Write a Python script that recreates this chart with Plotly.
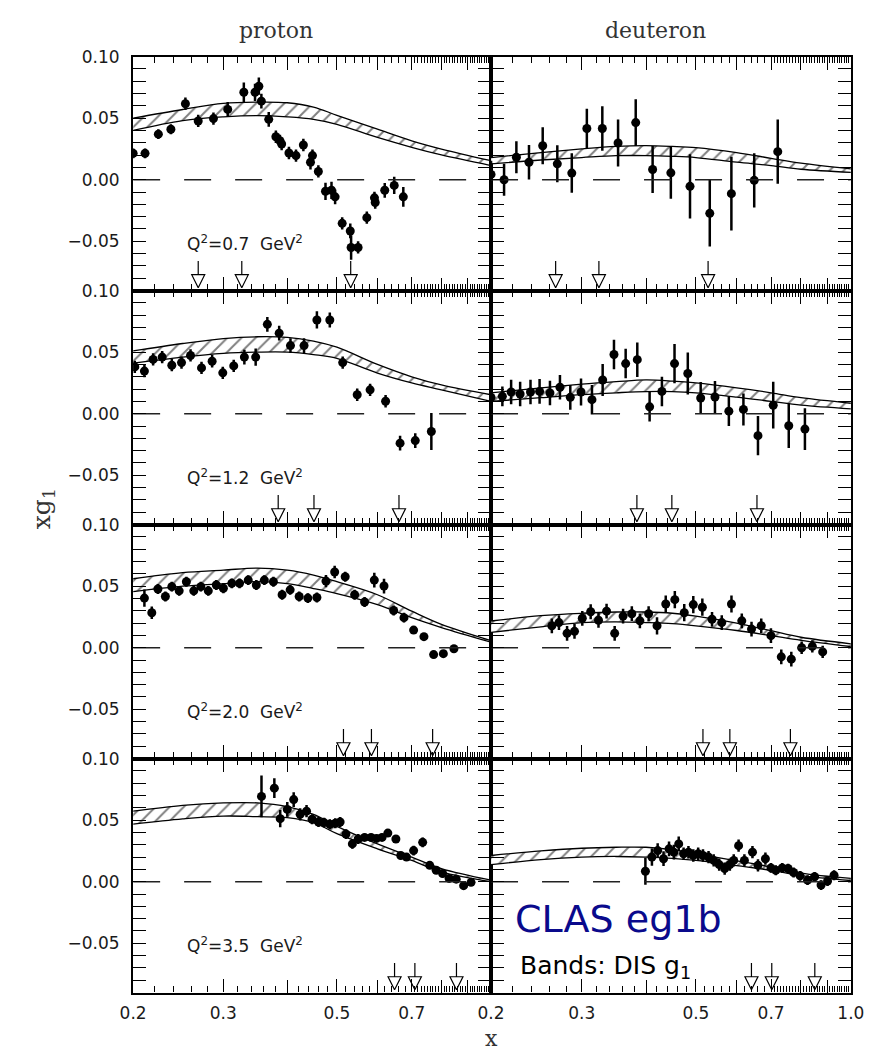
import numpy as np
import plotly.graph_objects as go
from plotly.subplots import make_subplots

# ---------------- data ----------------
# Q2 = 0.7 GeV2
p07_x = [0.200,0.211,0.224,0.237,0.253,0.268,0.287,0.306,0.329,0.346,0.352,0.356,0.368,0.380,0.387,0.390,0.403,0.416,0.430,0.444,0.448,0.460,0.475,0.488,0.496,0.512,0.531,0.533,0.550,0.572,0.592,0.594,0.620,0.647,0.674]
p07_y = [0.0214,0.0214,0.037,0.041,0.0617,0.0477,0.0496,0.0571,0.071,0.071,0.0759,0.0638,0.049,0.0349,0.0316,0.029,0.0217,0.0196,0.0282,0.0142,0.0196,0.0067,-0.0094,-0.0086,-0.0139,-0.0354,-0.0416,-0.055,-0.055,-0.0308,-0.0147,-0.0185,-0.0086,-0.0046,-0.0139]
p07_e = [0.004,0.004,0.004,0.004,0.005,0.005,0.005,0.006,0.008,0.007,0.007,0.006,0.006,0.005,0.005,0.005,0.005,0.005,0.005,0.006,0.005,0.005,0.007,0.007,0.006,0.005,0.006,0.010,0.005,0.005,0.005,0.005,0.006,0.007,0.008]
d07_x = [0.200,0.212,0.224,0.237,0.252,0.269,0.287,0.307,0.329,0.353,0.382,0.412,0.447,0.487,0.532,0.586,0.649,0.721]
d07_y = [0.0043,0.0,0.0182,0.0142,0.0276,0.0129,0.0054,0.0416,0.0416,0.0298,0.0464,0.0083,0.0056,-0.0054,-0.0273,-0.0113,-0.0005,0.0228]
d07_e = [0.011,0.013,0.013,0.014,0.015,0.015,0.016,0.016,0.018,0.019,0.019,0.019,0.021,0.026,0.027,0.030,0.022,0.026]

# Q2 = 1.2 GeV2
p12_x = [0.2015,0.2104,0.2188,0.2279,0.238,0.2486,0.2589,0.272,0.2853,0.2993,0.3144,0.3298,0.347,0.3657,0.3857,0.4058,0.4313,0.457,0.4843,0.5132,0.5478,0.5805,0.6224,0.6643,0.7112,0.7646]
p12_y = [0.038,0.0346,0.0441,0.046,0.0394,0.0415,0.0473,0.0372,0.0426,0.0332,0.0388,0.046,0.046,0.0726,0.0654,0.0553,0.0553,0.0761,0.0761,0.0415,0.0154,0.0194,0.0101,-0.0239,-0.0218,-0.0144]
p12_e = [0.005,0.005,0.005,0.005,0.005,0.005,0.005,0.005,0.005,0.005,0.005,0.006,0.007,0.006,0.006,0.006,0.006,0.007,0.006,0.005,0.005,0.005,0.005,0.006,0.006,0.015]
d12_x = [0.2,0.2104,0.2188,0.2278,0.2386,0.2485,0.2603,0.2722,0.2851,0.2991,0.3141,0.3295,0.3466,0.3652,0.3847,0.4065,0.4295,0.4544,0.4822,0.5108,0.5445,0.5794,0.6184,0.66,0.7066,0.7574,0.8142]
d12_y = [0.0133,0.0141,0.0176,0.016,0.0176,0.0181,0.0168,0.0215,0.0133,0.0176,0.0114,0.0274,0.0481,0.0407,0.0439,0.0056,0.0181,0.0407,0.0327,0.0128,0.0136,0.0021,0.0035,-0.0178,0.0069,-0.0098,-0.0125]
d12_e = [0.006,0.008,0.010,0.010,0.010,0.010,0.010,0.010,0.010,0.011,0.012,0.013,0.012,0.012,0.014,0.012,0.012,0.016,0.017,0.013,0.013,0.012,0.013,0.016,0.019,0.018,0.017]

# Q2 = 2.0 GeV2
p20_x = [0.2104,0.2175,0.2236,0.2312,0.238,0.246,0.2541,0.2627,0.2712,0.2804,0.2907,0.3001,0.3117,0.3227,0.3356,0.348,0.3608,0.3758,0.3908,0.4052,0.422,0.4388,0.457,0.476,0.495,0.519,0.5415,0.5663,0.5916,0.618,0.6454,0.676,0.706,0.7395,0.7725,0.807,0.8463]
p20_y = [0.0403,0.0284,0.0477,0.0416,0.0496,0.0462,0.0536,0.0462,0.0496,0.0462,0.0509,0.0483,0.0523,0.0523,0.0549,0.0509,0.0549,0.0536,0.043,0.047,0.0416,0.0403,0.0408,0.0541,0.0615,0.0576,0.043,0.0371,0.0549,0.0501,0.0302,0.0244,0.0143,0.009,-0.0056,-0.0048,-0.0008]
p20_e = [0.007,0.005,0.004,0.004,0.004,0.004,0.004,0.004,0.004,0.004,0.004,0.004,0.004,0.004,0.004,0.004,0.004,0.004,0.004,0.004,0.004,0.004,0.004,0.005,0.005,0.004,0.004,0.004,0.006,0.006,0.004,0.004,0.003,0.003,0.003,0.003,0.003]
d20_x = [0.2625,0.271,0.281,0.2905,0.3008,0.3123,0.3234,0.3353,0.3477,0.361,0.3754,0.3892,0.4047,0.4202,0.4369,0.455,0.4746,0.4942,0.5146,0.5374,0.5613,0.5862,0.6139,0.6412,0.6697,0.6994,0.7325,0.7661,0.8024,0.8416,0.8815]
d20_y = [0.0178,0.0204,0.0117,0.0133,0.0239,0.0292,0.0223,0.0297,0.0117,0.0257,0.0276,0.0218,0.0276,0.0178,0.0355,0.039,0.0284,0.035,0.0329,0.0231,0.0204,0.0355,0.0218,0.0151,0.0178,0.0098,-0.0074,-0.0093,0.0,0.0011,-0.0034]
d20_e = [0.006,0.006,0.006,0.006,0.006,0.006,0.006,0.006,0.006,0.006,0.006,0.006,0.006,0.007,0.007,0.007,0.007,0.007,0.007,0.006,0.006,0.007,0.006,0.006,0.006,0.006,0.006,0.006,0.005,0.005,0.005]

# Q2 = 3.5 GeV2
p35_x = [0.3562,0.3774,0.3875,0.4,0.4117,0.4238,0.4362,0.4472,0.4603,0.4718,0.4843,0.4964,0.5073,0.5208,0.536,0.5502,0.5663,0.583,0.5976,0.6125,0.6287,0.6519,0.6662,0.6838,0.706,0.7353,0.759,0.7814,0.8043,0.8282,0.855,0.884,0.914]
p35_y = [0.0693,0.076,0.0512,0.0587,0.0667,0.0547,0.0573,0.0507,0.0485,0.048,0.0467,0.0475,0.0485,0.0387,0.0307,0.0347,0.036,0.036,0.0352,0.036,0.0395,0.0347,0.0213,0.02,0.0253,0.032,0.0133,0.0093,0.0067,0.0027,0.0021,-0.0032,-0.0005]
p35_e = [0.017,0.008,0.007,0.006,0.006,0.005,0.005,0.004,0.004,0.004,0.004,0.004,0.004,0.004,0.004,0.004,0.003,0.003,0.003,0.003,0.003,0.003,0.003,0.003,0.004,0.004,0.003,0.003,0.003,0.003,0.003,0.003,0.003]
d35_x = [0.3989,0.4107,0.4214,0.4326,0.4434,0.453,0.463,0.4732,0.4836,0.4942,0.5051,0.5161,0.5291,0.5414,0.5549,0.5687,0.582,0.5922,0.6052,0.6211,0.6439,0.66,0.6823,0.6994,0.7147,0.7357,0.7551,0.774,0.7968,0.8238,0.8502,0.8752,0.9009,0.9274]
d35_y = [0.0085,0.02,0.0253,0.0187,0.0267,0.024,0.0307,0.0227,0.024,0.0213,0.0227,0.0213,0.02,0.0173,0.0139,0.0107,0.0139,0.0173,0.0293,0.0173,0.024,0.0133,0.0187,0.0112,0.0093,0.0112,0.0107,0.0075,0.0048,0.0013,0.004,-0.0027,0.0005,0.0053]
d35_e = [0.011,0.007,0.006,0.006,0.006,0.006,0.006,0.005,0.005,0.005,0.005,0.005,0.005,0.005,0.005,0.005,0.005,0.005,0.005,0.005,0.005,0.005,0.005,0.004,0.004,0.004,0.004,0.004,0.004,0.004,0.004,0.004,0.004,0.004]

# DIS g1 bands (upper / lower edges)
band_x = [0.2, 0.25, 0.3, 0.35, 0.4, 0.45, 0.5, 0.6, 0.7, 0.8, 1.0]
p07_up = [0.050, 0.057, 0.062, 0.063, 0.0625, 0.059, 0.0523, 0.041, 0.0316, 0.0249, 0.0155]
p07_lo = [0.040, 0.048, 0.051, 0.052, 0.051, 0.049, 0.045, 0.0343, 0.0263, 0.0201, 0.0115]
d07_up = [0.018, 0.022, 0.025, 0.027, 0.0276, 0.027, 0.026, 0.022, 0.0174, 0.0135, 0.0088]
d07_lo = [0.0129, 0.016, 0.018, 0.0195, 0.0196, 0.019, 0.018, 0.0142, 0.0115, 0.0085, 0.006]
p12_up = [0.051, 0.057, 0.061, 0.0625, 0.062, 0.059, 0.054, 0.040, 0.030, 0.0234, 0.0154]
p12_lo = [0.041, 0.046, 0.049, 0.050, 0.050, 0.048, 0.045, 0.033, 0.025, 0.0194, 0.010]
d12_up = [0.017, 0.021, 0.024, 0.026, 0.0274, 0.0265, 0.025, 0.021, 0.017, 0.013, 0.0085]
d12_lo = [0.010, 0.013, 0.0155, 0.017, 0.018, 0.018, 0.017, 0.0135, 0.010, 0.007, 0.004]
p20_up = [0.056, 0.061, 0.063, 0.0647, 0.063, 0.059, 0.0536, 0.043, 0.0297, 0.019, 0.0058]
p20_lo = [0.0456, 0.050, 0.052, 0.0536, 0.052, 0.048, 0.044, 0.035, 0.0244, 0.0164, 0.0045]
d20_up = [0.0217, 0.026, 0.028, 0.029, 0.029, 0.028, 0.0257, 0.020, 0.0138, 0.0085, 0.0032]
d20_lo = [0.0125, 0.017, 0.0204, 0.021, 0.0204, 0.0195, 0.0178, 0.014, 0.0098, 0.006, 0.001]
p35_up = [0.0573, 0.062, 0.064, 0.064, 0.061, 0.0547, 0.045, 0.0307, 0.020, 0.0107, 0.0013]
p35_lo = [0.0467, 0.051, 0.0533, 0.0528, 0.052, 0.048, 0.039, 0.0267, 0.0173, 0.008, 0.0]
d35_up = [0.0213, 0.025, 0.0272, 0.028, 0.028, 0.026, 0.0227, 0.017, 0.012, 0.007, 0.0027]
d35_lo = [0.0139, 0.018, 0.020, 0.0205, 0.020, 0.019, 0.0173, 0.013, 0.0093, 0.005, 0.001]

# resonance-region arrows
p07_arr = [0.268, 0.326, 0.532]
d07_arr = [0.267, 0.324, 0.528]
p12_arr = [0.384, 0.451, 0.661]
d12_arr = [0.384, 0.449, 0.657]
p20_arr = [0.515, 0.584, 0.769]
d20_arr = [0.516, 0.582, 0.763]
p35_arr = [0.648, 0.710, 0.856]
d35_arr = [0.641, 0.702, 0.851]

q2_labels = ["0.7", "1.2", "2.0", "3.5"]
col_titles = ["proton", "deuteron"]

y_ticks = [-0.05, 0.0, 0.05, 0.10]
y_ticktext = ["\u22120.05", "0.00", "0.05", "0.10"]
x_lab_left = [0.2, 0.3, 0.5, 0.7]
x_lab_right = [0.2, 0.3, 0.5, 0.7, 1.0]
x_text_left = ["0.2", "0.3", "0.5", "0.7"]
x_text_right = ["0.2", "0.3", "0.5", "0.7", "1.0"]
x_long_unlab = [0.4, 0.6, 0.8, 0.9]

panels = [
    [(p07_x, p07_y, p07_e, p07_up, p07_lo, p07_arr), (d07_x, d07_y, d07_e, d07_up, d07_lo, d07_arr)],
    [(p12_x, p12_y, p12_e, p12_up, p12_lo, p12_arr), (d12_x, d12_y, d12_e, d12_up, d12_lo, d12_arr)],
    [(p20_x, p20_y, p20_e, p20_up, p20_lo, p20_arr), (d20_x, d20_y, d20_e, d20_up, d20_lo, d20_arr)],
    [(p35_x, p35_y, p35_e, p35_up, p35_lo, p35_arr), (d35_x, d35_y, d35_e, d35_up, d35_lo, d35_arr)],
]

# ---------------- figure ----------------
W, H = 892, 1052
fig = make_subplots(rows=4, cols=2, horizontal_spacing=0, vertical_spacing=0)

x_dom = [[123 / W, 492.5 / W], [492.5 / W, 864 / W]]
top, bot = 47, 992
rh = (bot - top) / 4

all_major = [0.2, 0.3, 0.4, 0.5, 0.6, 0.7, 0.8, 0.9, 1.0]
minor_x = sorted(set([round(v, 2) for v in np.arange(0.22, 0.70, 0.02)] +
                     [round(v, 2) for v in np.arange(0.71, 1.0, 0.01)]) - set(all_major))
minor_y = [round(v, 2) for v in np.arange(-0.09, 0.101, 0.01) if round(v, 2) not in y_ticks]

tick_font = dict(family="DejaVu Sans", size=17, color="#1a1a1a")
arrow_tip = -0.0877
arrow_top = -0.0773
stem_top = -0.066
xrange_log = [np.log10(0.2), 0.0]

for r in range(4):
    y0 = 1 - (top + rh * (r + 1)) / H
    y1 = 1 - (top + rh * r) / H
    for c in range(2):
        xs, ys, es, up, lo, arr = panels[r][c]
        row, col = r + 1, c + 1
        k = r * 2 + c + 1
        xid = "x" if k == 1 else f"x{k}"
        yid = "y" if k == 1 else f"y{k}"
        # band
        fig.add_trace(go.Scatter(x=band_x, y=lo, mode="lines", line=dict(color="black", width=1.3, shape="spline"),
                                 hoverinfo="skip"), row=row, col=col)
        fig.add_trace(go.Scatter(x=band_x, y=up, mode="lines", line=dict(color="black", width=1.3, shape="spline"),
                                 fill="tonexty", fillcolor="rgba(0,0,0,0)",
                                 fillpattern=dict(shape="/", fgcolor="black", bgcolor="white", size=10, solidity=0.2),
                                 hoverinfo="skip"), row=row, col=col)
        # zero line drawn on an overlay axis carrying the unlabeled long ticks
        ov = 8 + k
        fig.add_trace(go.Scatter(x=[0.2, 1.0], y=[0, 0], mode="lines", xaxis=f"x{ov}", yaxis=yid,
                                 line=dict(color="#222", width=1.6, dash="27px,24px"), hoverinfo="skip"))
        fig.layout[f"xaxis{ov}"] = dict(type="log", range=xrange_log, overlaying=xid, anchor=yid,
                                        tickmode="array", tickvals=x_long_unlab, showticklabels=False,
                                        ticks="inside", ticklen=13, tickwidth=1.4, tickcolor="black",
                                        showline=False, mirror="allticks", showgrid=False, zeroline=False)
        # data
        fig.add_trace(go.Scatter(x=xs, y=ys, mode="markers",
                                 marker=dict(color="black", size=9),
                                 error_y=dict(type="data", array=es, color="black", thickness=2.5, width=0)),
                      row=row, col=col)
        # arrows
        fig.add_trace(go.Scatter(x=arr, y=[arrow_tip] * len(arr), mode="markers",
                                 marker=dict(symbol="arrow-down-open", size=13, color="black", line=dict(width=1.2, color="black")),
                                 hoverinfo="skip"), row=row, col=col)
        fig.add_trace(go.Scatter(x=arr, y=[arrow_top] * len(arr), mode="markers",
                                 marker=dict(size=1, color="rgba(0,0,0,0)"),
                                 error_y=dict(type="data", symmetric=False, array=[stem_top - arrow_top] * len(arr),
                                              arrayminus=[0] * len(arr), color="black", thickness=1.2, width=0),
                                 hoverinfo="skip"), row=row, col=col)

        fig.update_xaxes(type="log", range=xrange_log, domain=x_dom[c],
                         tickmode="array",
                         tickvals=(x_lab_left if c == 0 else x_lab_right),
                         ticktext=(x_text_left if c == 0 else x_text_right),
                         showticklabels=(r == 3), ticks="inside", ticklen=13, tickwidth=1.4, tickcolor="black",
                         minor=dict(tickmode="array", tickvals=minor_x, ticks="inside", ticklen=6, tickwidth=1.2, tickcolor="black"),
                         showline=True, linewidth=2.2, linecolor="black", mirror="allticks",
                         showgrid=False, zeroline=False, tickfont=tick_font, ticklabelstandoff=4,
                         row=row, col=col)
        fig.update_yaxes(range=[-0.09, 0.10], domain=[y0, y1],
                         tickmode="array", tickvals=y_ticks, ticktext=y_ticktext,
                         showticklabels=(c == 0), ticks="inside", ticklen=13, tickwidth=1.4, tickcolor="black",
                         minor=dict(tickmode="array", tickvals=minor_y, ticks="inside", ticklen=6, tickwidth=1.2, tickcolor="black"),
                         showline=True, linewidth=2.2, linecolor="black", mirror="allticks",
                         showgrid=False, zeroline=False, tickfont=tick_font, ticklabelstandoff=8,
                         row=row, col=col)

        if c == 0:
            fig.add_annotation(x=0.313, y=0.205, xref=f"{xid} domain", yref=f"{yid} domain", showarrow=False,
                               text="Q<sup>2</sup>=" + q2_labels[r] + "  GeV<sup>2</sup>",
                               font=dict(family="DejaVu Sans", size=17, color="#1a1a1a"),
                               xanchor="center", yanchor="middle")

# column titles
fig.add_annotation(x=271 / W, y=1 - 21 / H, xref="paper", yref="paper", text=col_titles[0], showarrow=False,
                   font=dict(family="DejaVu Serif", size=22, color="#333"), xanchor="center", yanchor="middle")
fig.add_annotation(x=662 / W, y=1 - 21 / H, xref="paper", yref="paper", text=col_titles[1], showarrow=False,
                   font=dict(family="DejaVu Serif", size=22, color="#333"), xanchor="center", yanchor="middle")
# axis titles
fig.add_annotation(x=30 / W, y=1 - 504 / H, xref="paper", yref="paper", text="xg<sub>1</sub>", showarrow=False,
                   textangle=-90, font=dict(family="DejaVu Serif", size=25, color="#333"),
                   xanchor="center", yanchor="middle")
fig.add_annotation(x=493 / W, y=0, xref="paper", yref="paper", text="x", showarrow=False, borderpad=0,
                   font=dict(family="DejaVu Serif", size=22, color="#333"), xanchor="center", yanchor="bottom")
# legend text
fig.add_annotation(x=515 / W, y=1 - 918 / H, xref="paper", yref="paper", text="CLAS eg1b", showarrow=False,
                   font=dict(family="DejaVu Sans", size=38, color="#0a0a8c"), xanchor="left", yanchor="middle")
fig.add_annotation(x=520 / W, y=1 - 966 / H, xref="paper", yref="paper", text="Bands: DIS g<sub>1</sub>", showarrow=False,
                   font=dict(family="DejaVu Sans", size=25, color="black"), xanchor="left", yanchor="middle")

fig.update_layout(width=W, height=H, margin=dict(l=0, r=0, t=0, b=0), showlegend=False,
                  paper_bgcolor="white", plot_bgcolor="white")

fig.write_html("out.html")
